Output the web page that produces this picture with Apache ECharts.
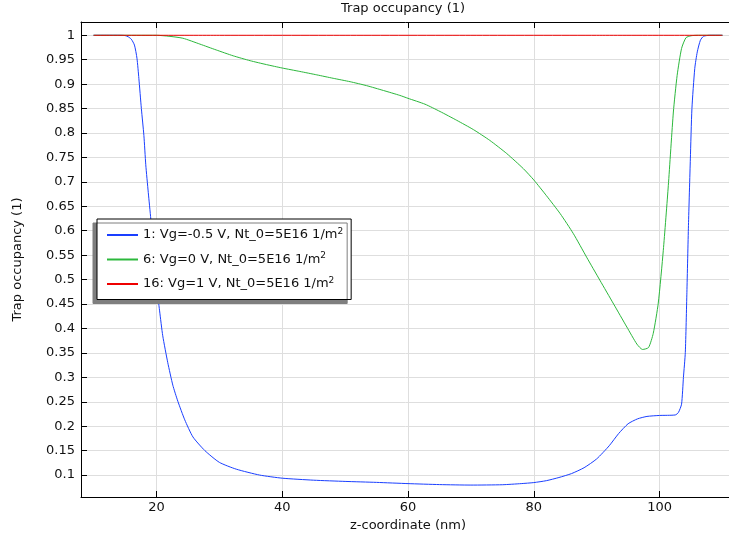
<!DOCTYPE html>
<html><head><meta charset="utf-8">
<script src="https://cdn.jsdelivr.net/npm/echarts@6/dist/echarts.min.js"></script>
<style>html,body{margin:0;padding:0;background:#fff}#c{width:729px;height:536px}</style>
</head><body><div id="c"></div>
<script>
const seriesNames = [
  '1: Vg=-0.5 V, Nt_0=5E16 1/m²',
  '6: Vg=0 V, Nt_0=5E16 1/m²',
  '16: Vg=1 V, Nt_0=5E16 1/m²'
];
const seriesColors = ['#1a3fff', '#2cb83c', '#ee0000'];

const vgMinus05 = [
  [10,1],[12,1],[14,1],[15,0.9995],[15.5,0.997],[16,0.992],[16.5,0.98],[16.9,0.953],[17.2,0.912],
  [17.6,0.85],[18,0.795],[18.3,0.735],[18.7,0.678],[19.1,0.624],[19.5,0.56],[20,0.49],[20.5,0.436],
  [21,0.385],[21.8,0.33],[22.6,0.284],[23.4,0.251],[24.5,0.213],[25.8,0.178],[27.7,0.15],[30,0.126],
  [32.7,0.112],[36.4,0.1],[40,0.0936],[45,0.0895],[50,0.087],[55,0.085],[60,0.0825],[65,0.0805],
  [70,0.0795],[75,0.0802],[78,0.0825],[80,0.0846],[82,0.0885],[84,0.095],[86,0.103],[88,0.115],
  [90,0.133],[92,0.16],[93.5,0.185],[95,0.205],[96.5,0.215],[98,0.22],[100,0.222],[102.5,0.223],
  [103,0.228],[103.5,0.245],[103.8,0.3],[104.1,0.351],[104.35,0.474],[104.6,0.611],[104.9,0.747],
  [105.15,0.85],[105.6,0.932],[106,0.966],[106.5,0.99],[107,0.998],[108,1],[110,1]
];
const vg0 = [
  [10,1],[15,1],[20,1],[22,0.998],[24.2,0.994],[26.9,0.982],[29.5,0.97],[32.2,0.958],[34.9,0.948],
  [37.5,0.94],[40,0.933],[42.8,0.926],[45.5,0.919],[48.1,0.912],[50.8,0.905],[53.4,0.897],[56.1,0.887],
  [58.7,0.877],[60,0.871],[62.7,0.859],[65.1,0.844],[67.75,0.826],[70.4,0.807],[73,0.785],[75.7,0.758],
  [78.35,0.727],[80,0.704],[82,0.672],[84.2,0.635],[86.3,0.594],[88.4,0.546],[90.5,0.499],[92.7,0.45],
  [94.8,0.403],[96.4,0.368],[97.3,0.357],[98.25,0.361],[99,0.39],[99.8,0.452],[100.6,0.56],[101.4,0.693],
  [102.2,0.843],[102.8,0.918],[103.5,0.973],[104.2,0.995],[105,0.999],[106,1],[110,1]
];
const vg1 = [[10,1],[30,1],[50,1],[70,1],[90,1],[110,1]];

const xTicks = [20, 40, 60, 80, 100];
const yTicks = [0.1, 0.15, 0.2, 0.25, 0.3, 0.35, 0.4, 0.45, 0.5, 0.55, 0.6, 0.65, 0.7, 0.75, 0.8, 0.85, 0.9, 0.95, 1];

const FONT = 'DejaVu Sans';
const TXT = '#111';
const GRIDC = '#dedede';
const X_MIN = 8, X_MAX = 112;
const Y_MIN = 0.0551, Y_MAX = 1.0272;

const chart = echarts.init(document.getElementById('c'), null, {renderer: 'canvas'});

function xAxisCfg(pos, main) {
  return {
    type: 'value', position: pos, min: X_MIN, max: X_MAX,
    name: main ? 'z-coordinate (nm)' : '',
    nameLocation: 'middle', nameGap: 19,
    nameTextStyle: {fontFamily: FONT, fontSize: 13, color: TXT},
    axisLine: {show: true, onZero: false, lineStyle: {color: '#000', width: 1}},
    axisTick: {show: true, inside: true, length: 6, customValues: xTicks, lineStyle: {color: '#000'}},
    axisLabel: {show: main, customValues: xTicks, margin: 4, fontFamily: FONT, fontSize: 13, color: TXT},
    splitLine: {show: main, lineStyle: {color: GRIDC, width: 1}}
  };
}
function yAxisCfg(pos, main) {
  return {
    type: 'value', position: pos, min: Y_MIN, max: Y_MAX,
    name: main ? 'Trap occupancy (1)' : '',
    nameLocation: 'middle', nameGap: 57,
    nameTextStyle: {fontFamily: FONT, fontSize: 13, color: TXT},
    axisLine: {show: true, onZero: false, lineStyle: {color: '#000', width: 1}},
    axisTick: {show: true, inside: true, length: 6, customValues: yTicks, lineStyle: {color: '#000'}},
    axisLabel: {show: main, customValues: yTicks, margin: 6, fontFamily: FONT, fontSize: 13, color: TXT},
    splitLine: {show: main, lineStyle: {color: GRIDC, width: 1}}
  };
}

const option = {
  animation: false,
  backgroundColor: '#fff',
  title: {
    text: 'Trap occupancy (1)', left: 341, top: 2, padding: 0,
    textStyle: {fontFamily: FONT, fontSize: 13, fontWeight: 'normal', color: TXT}
  },
  grid: {left: 81, top: 22, width: 654, bottom: 39, outerBoundsMode: 'none', containLabel: false},
  xAxis: [xAxisCfg('bottom', true), xAxisCfg('top', false)],
  yAxis: [yAxisCfg('left', true), yAxisCfg('right', false)],
  legend: {
    orient: 'vertical', left: 97, top: 219,
    padding: [8, 8, 9, 9], itemGap: 10, itemWidth: 31, itemHeight: 14,
    backgroundColor: '#fff', borderColor: '#000', borderWidth: 1,
    shadowColor: '#7f7f7f', shadowBlur: 0, shadowOffsetX: -4, shadowOffsetY: 4,
    itemStyle: {opacity: 0},
    data: seriesNames,
    formatter: function (name) {
      return '{n|' + name.replace('²', '}{s|2}');
    },
    textStyle: {
      fontFamily: FONT, fontSize: 13, color: TXT,
      rich: {
        n: {fontFamily: FONT, fontSize: 13, color: TXT, lineHeight: 16},
        s: {fontFamily: FONT, fontSize: 9, color: TXT, verticalAlign: 'top', lineHeight: 16}
      }
    }
  },
  series: [vgMinus05, vg0, vg1].map(function (d, i) {
    return {
      name: seriesNames[i], type: 'line', data: d,
      xAxisIndex: 0, yAxisIndex: 0,
      symbol: 'none', showSymbol: false,
      smooth: 0.2,
      lineStyle: {color: seriesColors[i], width: 1},
      itemStyle: {color: seriesColors[i]},
      z: 2 + i
    };
  })
};
chart.setOption(option);
</script>
</body></html>
